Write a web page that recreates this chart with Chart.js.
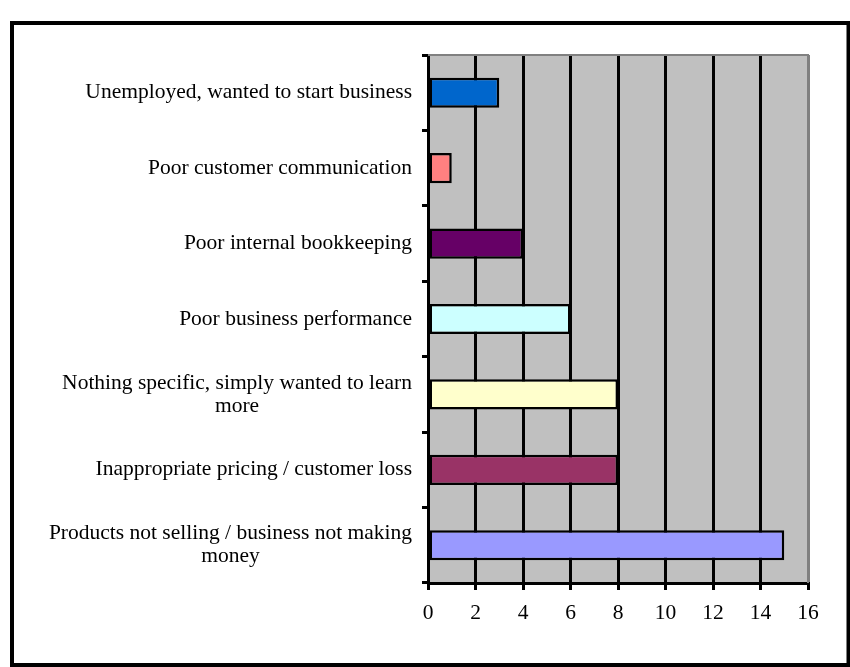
<!DOCTYPE html>
<html>
<head>
<meta charset="utf-8">
<title>Reasons for seeking help</title>
<script src="https://cdn.jsdelivr.net/npm/chart.js@4.4.0/dist/chart.umd.min.js"></script>
<style>
    html, body { margin: 0; padding: 0; background: #ffffff; }
    #wrap { width: 850px; height: 667px; }
</style>
</head>
<body>
<div id="wrap"><canvas id="reasonChart" width="850" height="667"></canvas></div>
<script>
// Data dari gambar (urutan atas ke bawah)
const categories = [
    'Unemployed, wanted to start business',
    'Poor customer communication',
    'Poor internal bookkeeping',
    'Poor business performance',
    ['Nothing specific, simply wanted to learn', 'more'],
    'Inappropriate pricing / customer loss',
    ['Products not selling / business not making', 'money']
];
const counts = [3, 1, 4, 6, 8, 8, 15];
const barColors = ['#0066CC', '#FF8080', '#660066', '#CCFFFF', '#FFFFCC', '#993366', '#9999FF'];
const xTicks = [0, 2, 4, 6, 8, 10, 12, 14, 16];

const FONT = '"Liberation Serif", "Times New Roman", serif';
const FONT_SIZE = 21.5;

// Background plot abu-abu + frame luar
const plotBackground = {
    id: 'plotBackground',
    beforeDraw(chart) {
        const { ctx, chartArea: a } = chart;
        ctx.save();
        ctx.fillStyle = '#ffffff';
        ctx.fillRect(0, 0, chart.width, chart.height);
        ctx.fillStyle = '#C0C0C0';
        ctx.fillRect(a.left, a.top, a.right - a.left, a.bottom - a.top);
        ctx.restore();
    },
    afterDraw(chart) {
        const { ctx, chartArea: a } = chart;
        ctx.save();
        // garis tepi plot (atas & kanan) abu-abu
        ctx.strokeStyle = '#808080';
        ctx.lineWidth = 2;
        ctx.beginPath();
        ctx.moveTo(a.left, a.top);
        ctx.lineTo(a.right, a.top);
        ctx.lineTo(a.right, a.bottom);
        ctx.stroke();
        // frame luar (kanan & bawah menempel tepi gambar)
        ctx.strokeStyle = '#000000';
        ctx.lineWidth = 4;
        ctx.strokeRect(12, 23, 836.5, 642);
        ctx.restore();
    }
};

// Label kategori: blok rata kanan, baris di dalamnya rata tengah
const categoryLabels = {
    id: 'categoryLabels',
    afterDraw(chart) {
        const { ctx } = chart;
        const yScale = chart.scales.y;
        const rightX = 412;
        const lineHeight = 23;
        ctx.save();
        ctx.font = FONT_SIZE + 'px ' + FONT;
        ctx.fillStyle = '#000000';
        ctx.textBaseline = 'middle';
        ctx.textAlign = 'center';
        categories.forEach((label, i) => {
            const lines = Array.isArray(label) ? label : [label];
            const widths = lines.map(l => ctx.measureText(l).width);
            const blockW = Math.max(...widths);
            const cx = rightX - blockW / 2;
            const yc = yScale.getPixelForValue(i);
            const y0 = yc - (lines.length - 1) * lineHeight / 2;
            lines.forEach((l, j) => ctx.fillText(l, cx, y0 + j * lineHeight));
        });
        ctx.restore();
    }
};

const ctx = document.getElementById('reasonChart').getContext('2d');
new Chart(ctx, {
    type: 'bar',
    data: {
        labels: categories,
        datasets: [{
            data: counts,
            backgroundColor: barColors,
            borderColor: '#000000',
            borderWidth: 2.5,
            borderSkipped: false,
            categoryPercentage: 1,
            barPercentage: 0.40
        }]
    },
    options: {
        indexAxis: 'y',
        responsive: false,
        devicePixelRatio: 1,
        animation: false,
        layout: {
            padding: { top: 55, right: 42, left: 0, bottom: 0 }
        },
        plugins: {
            legend: { display: false },
            tooltip: { enabled: false }
        },
        scales: {
            x: {
                min: 0,
                max: 16,
                afterBuildTicks: function(scale) {
                    scale.ticks = xTicks.map(v => ({ value: v }));
                },
                afterFit: function(scale) {
                    scale.height = 84;
                },
                ticks: {
                    color: '#000000',
                    padding: 10,
                    font: { family: FONT, size: FONT_SIZE }
                },
                grid: {
                    color: function(c) {
                        return c.tick && c.tick.value === 16 ? '#808080' : '#000000';
                    },
                    tickColor: '#000000',
                    lineWidth: 3,
                    tickLength: 7
                },
                border: { color: '#000000', width: 3 }
            },
            y: {
                type: 'category',
                offset: true,
                afterFit: function(scale) {
                    scale.width = 428;
                },
                ticks: { display: false },
                grid: {
                    offset: true,
                    drawOnChartArea: false,
                    color: '#000000',
                    lineWidth: 3,
                    tickLength: 6
                },
                border: { color: '#000000', width: 3 }
            }
        }
    },
    plugins: [plotBackground, categoryLabels]
});
</script>
</body>
</html>
